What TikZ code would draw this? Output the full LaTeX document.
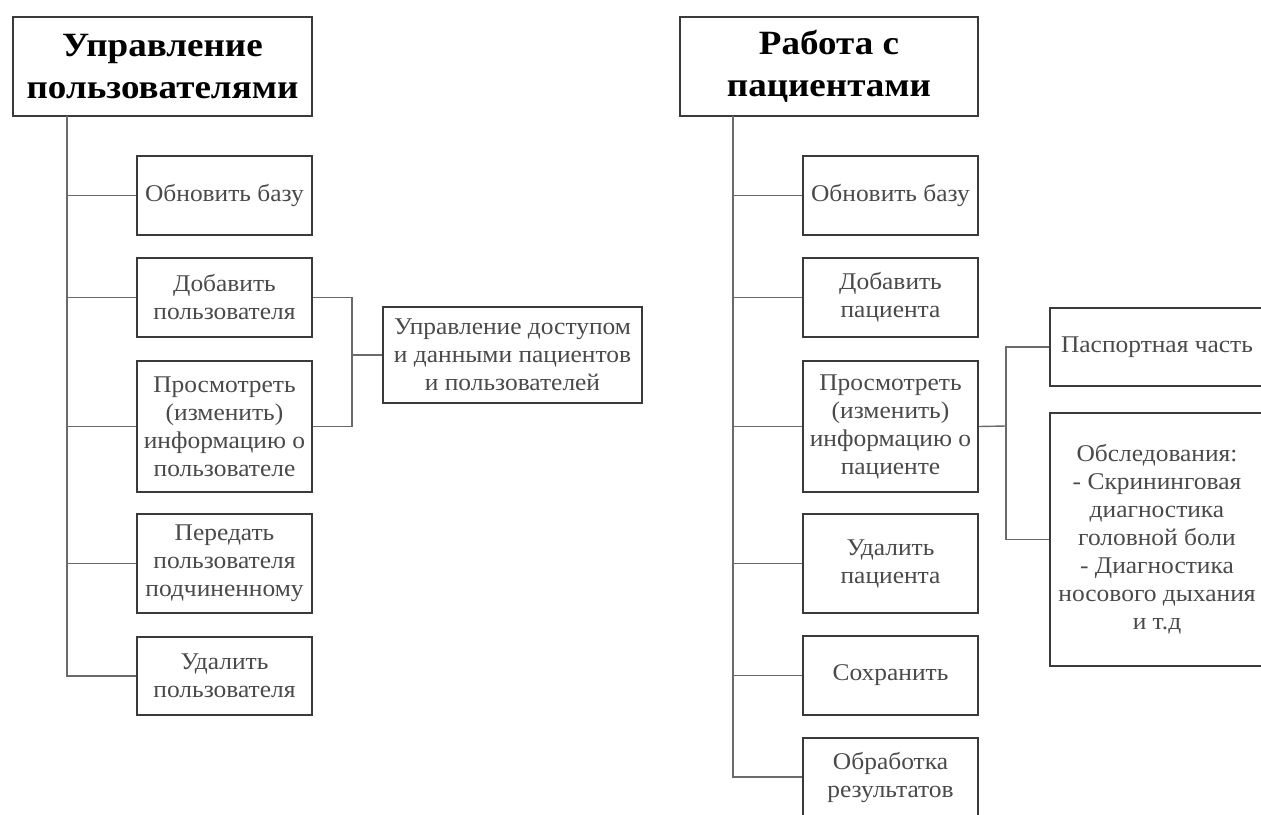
\documentclass[tikz,border=0pt]{standalone}
\usepackage{fontspec}
\setmainfont{Liberation Serif}
\newfontfamily\itemfont[FakeStretch=1.06]{Liberation Serif}
\newfontfamily\headfont[FakeStretch=1.09]{Liberation Serif}
\definecolor{boxline}{HTML}{3A3A3A}
\definecolor{connline}{HTML}{6A6A6A}
\definecolor{boxtext}{HTML}{4A4A4A}
\begin{document}
\begin{tikzpicture}[x=1pt,y=-1pt,
  titlebox/.style={draw=boxline, line width=1.8pt, rectangle, inner sep=0pt, align=center,
    font=\headfont\fontsize{34}{42}\selectfont\bfseries, text=black},
  itembox/.style={draw=boxline, line width=1.8pt, rectangle, inner sep=0pt, align=center,
    font=\itemfont\fontsize{24}{28}\selectfont, text=boxtext},
  conn/.style={draw=connline, line width=1.4pt}]
\useasboundingbox (0,0) rectangle (1261,814);
\clip (0,0) rectangle (1261,814);
\fill[white] (0,0) rectangle (1261,814);

% left column
\node[titlebox, minimum width=299pt, minimum height=99pt] (lt) at (162.5,66.5) {Управление\\пользователями};
\node[itembox, minimum width=175pt, minimum height=79pt] (l1) at (224.5,195.5) {Обновить базу};
\node[itembox, minimum width=175pt, minimum height=79pt] (l2) at (224.5,297.5) {Добавить\\пользователя};
\node[itembox, minimum width=175pt, minimum height=131pt] (l3) at (224.5,426.5) {Просмотреть\\(изменить)\\информацию о\\пользователе};
\node[itembox, minimum width=175pt, minimum height=99pt] (l4) at (224.5,563.5) {Передать\\пользователя\\подчиненному};
\node[itembox, minimum width=175pt, minimum height=78pt] (l5) at (224.5,676) {Удалить\\пользователя};
\node[itembox, minimum width=259pt, minimum height=96pt] (lacc) at (512.5,355) {Управление доступом\\и данными пациентов\\и пользователей};

\coordinate (lT) at (67,116);
\coordinate (lB) at (352,355);
\draw[conn] (lT) |- (l5.west);
\foreach \n in {l1,l2,l3,l4} \draw[conn] (\n.west) -- (\n.west -| lT);
\draw[conn] (l2.east) -| (lB);
\draw[conn] (l3.east) -| (lB);
\draw[conn] (lB) -- (lacc.west);

% right column
\node[titlebox, minimum width=298pt, minimum height=99pt] (rt) at (829,66.5) {Работа с\\пациентами};
\node[itembox, minimum width=175pt, minimum height=79pt] (r1) at (890.5,195.5) {Обновить базу};
\node[itembox, minimum width=175pt, minimum height=79pt] (r2) at (890.5,297.5) {Добавить\\пациента};
\node[itembox, minimum width=175pt, minimum height=131pt] (r3) at (890.5,426.5) {Просмотреть\\(изменить)\\информацию о\\пациенте};
\node[itembox, minimum width=175pt, minimum height=99pt] (r4) at (890.5,563.5) {Удалить\\пациента};
\node[itembox, minimum width=175pt, minimum height=79pt] (r5) at (890.5,675.5) {Сохранить};
\node[itembox, minimum width=175pt, minimum height=78pt] (r6) at (890.5,777) {Обработка\\результатов};
\node[itembox, minimum width=214pt, minimum height=78pt] (rp) at (1157,347) {Паспортная часть};
\node[itembox, minimum width=214pt, minimum height=253pt] (ro) at (1157,539.5) {Обследования:\\- Скрининговая\\диагностика\\головной боли\\- Диагностика\\носового дыхания\\и т.д};

\coordinate (rT) at (733,116);
\coordinate (rB) at (1006,426);
\draw[conn] (rT) |- (r6.west);
\foreach \n in {r1,r2,r3,r4,r5} \draw[conn] (\n.west) -- (\n.west -| rT);
\draw[conn] (r3.east) -- (rB);
\draw[conn] (rp.west) -| (rB);
\draw[conn] (ro.west) -| (rB);
\end{tikzpicture}
\end{document}
